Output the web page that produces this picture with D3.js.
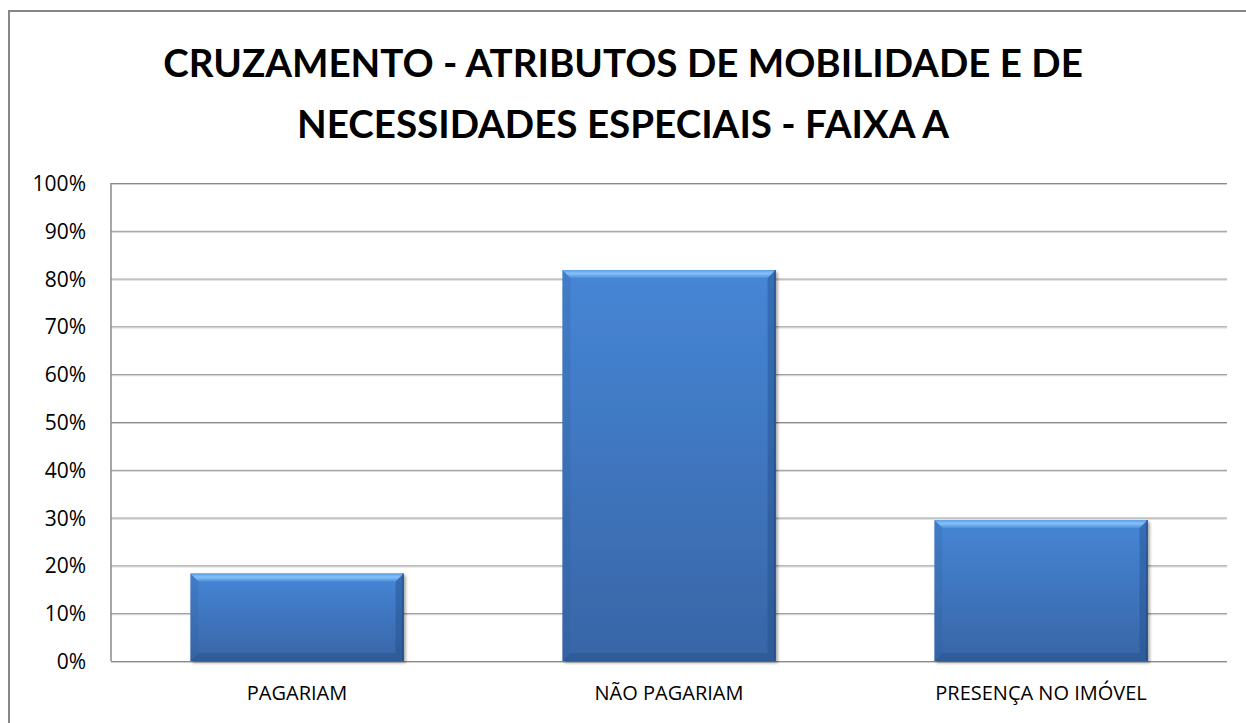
<!DOCTYPE html>
<html>
<head>
<meta charset="utf-8">
<script src="https://cdn.jsdelivr.net/npm/d3@7"></script>
<style>
  html, body { margin: 0; padding: 0; background: #fff; overflow: hidden; }
  svg { display: block; }
</style>
</head>
<body>
<div id="chart"></div>
<script>
var titleLines = ["CRUZAMENTO - ATRIBUTOS DE MOBILIDADE E DE", "NECESSIDADES ESPECIAIS - FAIXA A"];
var categories = ["PAGARIAM", "NÃO PAGARIAM", "PRESENÇA NO IMÓVEL"];
var values = [0.183, 0.818, 0.295];
var yTicks = [0, 0.1, 0.2, 0.3, 0.4, 0.5, 0.6, 0.7, 0.8, 0.9, 1.0];

var Wd = 1246, Ht = 723;
var M = {t: 183, r: 19, b: 62, l: 111};
var W = Wd - M.l - M.r, H = Ht - M.t - M.b;
var bev = 8;

var svg = d3.select("#chart").append("svg")
    .attr("width", Wd)
    .attr("height", Ht);

var defs = svg.append("defs");

var gMain = defs.append("linearGradient").attr("id", "barMain")
    .attr("x1", 0).attr("y1", 0).attr("x2", 0).attr("y2", 1);
gMain.append("stop").attr("offset", "0%").attr("stop-color", "#4686d6");
gMain.append("stop").attr("offset", "100%").attr("stop-color", "#3865a6");

var gTop = defs.append("linearGradient").attr("id", "barTop")
    .attr("x1", 0).attr("y1", 0).attr("x2", 0).attr("y2", 1);
gTop.append("stop").attr("offset", "0%").attr("stop-color", "#5d9ee8");
gTop.append("stop").attr("offset", "45%").attr("stop-color", "#86c1f7");
gTop.append("stop").attr("offset", "100%").attr("stop-color", "#4d8edc");

var shadow = defs.append("filter").attr("id", "shadow")
    .attr("x", "-5%").attr("y", "-5%").attr("width", "115%").attr("height", "115%");
shadow.append("feGaussianBlur").attr("in", "SourceAlpha").attr("stdDeviation", 1.5).attr("result", "blur");
shadow.append("feOffset").attr("in", "blur").attr("dx", 2).attr("dy", 2).attr("result", "off");
shadow.append("feComponentTransfer").attr("in", "off").attr("result", "soft")
  .append("feFuncA").attr("type", "linear").attr("slope", 0.35);
var merge = shadow.append("feMerge");
merge.append("feMergeNode").attr("in", "soft");
merge.append("feMergeNode").attr("in", "SourceGraphic");

// outer chart border (runs past the window on the right and bottom)
svg.append("rect")
    .attr("x", 9).attr("y", 11)
    .attr("width", Wd + 20).attr("height", Ht + 20)
    .attr("fill", "none")
    .attr("stroke", "#878787")
    .attr("stroke-width", 2);

// title, sized so the first line spans about 920px like the original
var title = svg.append("text")
    .attr("text-anchor", "middle")
    .attr("font-family", "Lato, 'Open Sans', sans-serif")
    .attr("font-weight", "bold")
    .attr("font-size", 40)
    .attr("fill", "#000");
title.selectAll("tspan").data(titleLines).enter().append("tspan")
    .attr("x", 623)
    .attr("y", function(d, i) { return 77 + i * 61; })
    .text(function(d) { return d; });
var firstLen = title.select("tspan").node().getComputedTextLength();
if (firstLen > 0) title.attr("font-size", 40 * 920 / firstLen);

var g = svg.append("g").attr("transform", "translate(" + M.l + "," + M.t + ")");

var scaleX = d3.scaleBand()
    .domain(categories)
    .range([0, W])
    .paddingInner(0.427)
    .paddingOuter(0.2135);

var scaleY = d3.scaleLinear()
    .domain([0, 1])
    .range([H, 0]);

// gridlines
var axisY = d3.axisLeft(scaleY)
    .tickValues(yTicks)
    .tickSize(-W)
    .tickFormat(d3.format(".0%"));

var gy = g.append("g").attr("class", "axis-y").call(axisY);
gy.select(".domain").remove();
gy.selectAll(".tick line")
    .attr("stroke", "#8a8a8a")
    .attr("stroke-width", 1)
    .clone()
    .attr("transform", "translate(0,1)")
    .attr("stroke", "#d0d0d0");
gy.selectAll(".tick text")
    .attr("x", -25)
    .attr("dy", "0.36em")
    .attr("font-family", "'Open Sans', sans-serif")
    .attr("font-size", 21)
    .attr("fill", "#000");

// plot frame: left edge
g.append("line")
    .attr("x1", 0).attr("x2", 0)
    .attr("y1", scaleY(1)).attr("y2", scaleY(0))
    .attr("stroke", "#8a8a8a").attr("stroke-width", 1.5);

// bars
var bars = g.append("g").attr("class", "bars");
var bar = bars.selectAll(".bar").data(values).enter().append("g")
    .attr("class", "bar")
    .attr("filter", "url(#shadow)");

function bx(d, i) { return scaleX(categories[i]); }
var bw = scaleX.bandwidth();

bar.append("rect")
    .attr("x", bx)
    .attr("y", function(d) { return scaleY(d); })
    .attr("width", bw)
    .attr("height", function(d) { return H - scaleY(d); })
    .attr("fill", "url(#barMain)");

// left bevel
bar.append("path")
    .attr("d", function(d, i) {
      var x = bx(d, i), y = scaleY(d), h = H - y;
      return "M" + x + "," + y + "L" + (x + bev) + "," + (y + bev) + "L" + (x + bev) + "," + (y + h - bev) + "L" + x + "," + (y + h) + "Z";
    })
    .attr("fill", "#2f5f9f").attr("opacity", 0.25);

// right bevel
bar.append("path")
    .attr("d", function(d, i) {
      var x = bx(d, i) + bw, y = scaleY(d), h = H - y;
      return "M" + x + "," + y + "L" + (x - bev) + "," + (y + bev) + "L" + (x - bev) + "," + (y + h - bev) + "L" + x + "," + (y + h) + "Z";
    })
    .attr("fill", "#1f4a85").attr("opacity", 0.4);

// bottom bevel
bar.append("path")
    .attr("d", function(d, i) {
      var x = bx(d, i), y = scaleY(0);
      return "M" + x + "," + y + "L" + (x + bev) + "," + (y - bev) + "L" + (x + bw - bev) + "," + (y - bev) + "L" + (x + bw) + "," + y + "Z";
    })
    .attr("fill", "#2a5690").attr("opacity", 0.6);

// top bevel
bar.append("path")
    .attr("d", function(d, i) {
      var x = bx(d, i), y = scaleY(d);
      return "M" + x + "," + y + "L" + (x + bw) + "," + y + "L" + (x + bw - bev) + "," + (y + bev) + "L" + (x + bev) + "," + (y + bev) + "Z";
    })
    .attr("fill", "url(#barTop)");

// right dark edge line
bar.append("line")
    .attr("x1", function(d, i) { return bx(d, i) + bw - 0.5; })
    .attr("x2", function(d, i) { return bx(d, i) + bw - 0.5; })
    .attr("y1", function(d) { return scaleY(d); })
    .attr("y2", H)
    .attr("stroke", "#1d3f70").attr("stroke-width", 1);

// x axis
var axisX = d3.axisBottom(scaleX).tickSize(0).tickPadding(0);
var gx = g.append("g").attr("class", "axis-x")
    .attr("transform", "translate(0," + H + ")")
    .call(axisX);
gx.select(".domain").remove();
gx.selectAll(".tick text")
    .attr("y", 39)
    .attr("dy", 0)
    .attr("font-family", "'Open Sans', sans-serif")
    .attr("font-size", 20)
    .attr("fill", "#000");
</script>
</body>
</html>
